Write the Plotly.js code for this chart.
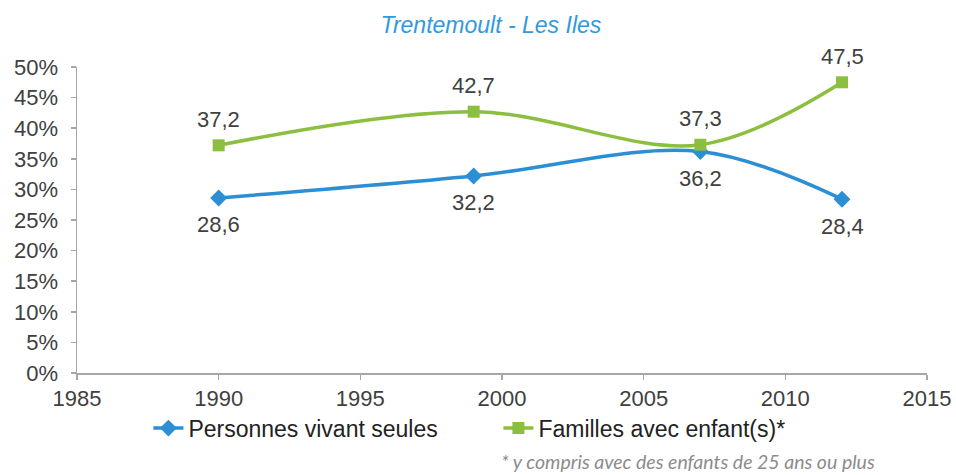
<!DOCTYPE html>
<html>
<head>
<meta charset="utf-8">
<script src="https://cdn.plot.ly/plotly-3.0.1.min.js"></script>
<style>html,body{margin:0;padding:0;background:#fff;}#chart{width:956px;height:475px;}</style>
</head>
<body>
<div id="chart"></div>
<script>
const years = [1990, 1999, 2007, 2012];
const seules = [28.6, 32.2, 36.2, 28.4];
const familles = [37.2, 42.7, 37.3, 47.5];
const seriesNames = ["Personnes vivant seules", "Familles avec enfant(s)*"];
const chartTitle = "Trentemoult - Les Iles";
const footnote = "* y compris avec des enfants de 25 ans ou plus";

const BLUE = "#2A8FD4", GREEN = "#8CBF3F";
const labelFont = {family: "Liberation Sans, Arial, sans-serif", size: 22, color: "#404040"};
const fmt = v => v.toFixed(1).replace(".", ",");

const traces = [
  {
    x: years, y: seules, name: seriesNames[0], type: "scatter", mode: "lines+markers",
    line: {color: BLUE, width: 3.5, shape: "spline", smoothing: 1},
    marker: {symbol: "diamond", size: 13, color: BLUE}
  },
  {
    x: years, y: familles, name: seriesNames[1], type: "scatter", mode: "lines+markers",
    line: {color: GREEN, width: 3.5, shape: "spline", smoothing: 1},
    marker: {symbol: "square", size: 12, color: GREEN}
  }
];

const annotations = [];
years.forEach((yr, i) => {
  annotations.push({x: yr, y: seules[i], xref: "x", yref: "y", text: fmt(seules[i]), showarrow: false,
    yshift: -27, font: labelFont, xanchor: "center", yanchor: "middle"});
  annotations.push({x: yr, y: familles[i], xref: "x", yref: "y", text: fmt(familles[i]), showarrow: false,
    yshift: 26, font: labelFont, xanchor: "center", yanchor: "middle"});
});
annotations.push({
  text: footnote, xref: "paper", yref: "paper", x: 0.497, xanchor: "left", y: -0.29, yanchor: "middle",
  showarrow: false,
  font: {family: "Lato, Open Sans, sans-serif", size: 19.5, color: "#8C8C8C", style: "italic"}
});

const axisFont = {family: "Liberation Sans, Arial, sans-serif", size: 22, color: "#404040"};

const layout = {
  width: 956, height: 475,
  margin: {l: 77, r: 29, t: 67, b: 102},
  paper_bgcolor: "#fff", plot_bgcolor: "#fff",
  showlegend: true,
  title: {
    text: chartTitle, x: 0.487, xref: "paper", xanchor: "center", y: 0.947, yanchor: "middle",
    font: {family: "Liberation Sans, Arial, sans-serif", size: 23, color: "#3399DD", style: "italic"}
  },
  xaxis: {
    range: [1985, 2015], dtick: 5, tick0: 1985, showgrid: false, zeroline: false,
    showline: true, linecolor: "#A6A6A6", linewidth: 1.5,
    ticks: "outside", ticklen: 5, tickcolor: "#A6A6A6", tickwidth: 1.5,
    tickfont: axisFont, fixedrange: true
  },
  yaxis: {
    range: [0, 50], dtick: 5, tick0: 0, ticksuffix: "%", showgrid: false, zeroline: false,
    showline: true, linecolor: "#A6A6A6", linewidth: 1.5,
    ticks: "outside", ticklen: 5, tickcolor: "#A6A6A6", tickwidth: 1.5,
    ticklabelstandoff: 8,
    tickfont: axisFont, fixedrange: true
  },
  legend: {
    orientation: "h", x: 0.084, xanchor: "left", y: -0.11, yanchor: "top",
    font: {family: "Liberation Sans, Arial, sans-serif", size: 23, color: "#222"},
    entrywidth: 305, bgcolor: "rgba(0,0,0,0)"
  },
  annotations: annotations
};

Plotly.newPlot("chart", traces, layout, {staticPlot: true, displayModeBar: false});
</script>
</body>
</html>
